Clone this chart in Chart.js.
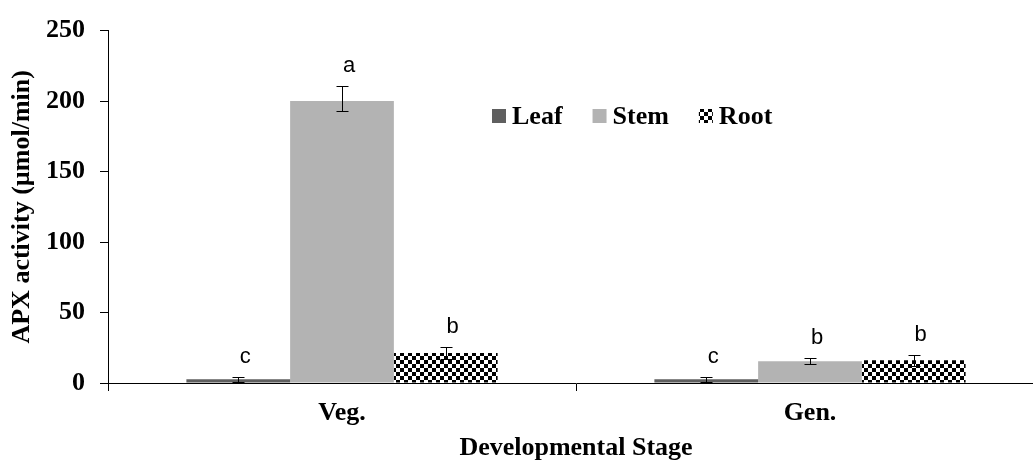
<!DOCTYPE html>
<html><head><meta charset="utf-8">
<script src="https://cdn.jsdelivr.net/npm/chart.js@4.4.0/dist/chart.umd.min.js"></script>
<style>html,body{margin:0;padding:0;overflow:hidden;background:#fff}</style>
</head><body>
<canvas id="c" width="1060" height="464"></canvas>
<script>
// ---- data ----
const categories = ['Veg.', 'Gen.'];
const seriesNames = ['Leaf', 'Stem', 'Root'];
const leafValues = [2.7, 2.6];
const stemValues = [200, 15.4];
const rootValues = [21.3, 16.1];
const leafErrPlus = [1.7, 1.8];
const leafErrMinus = [1.7, 1.8];
const stemErrPlus = [11, 2.6];
const stemErrMinus = [7, 2.1];
const rootErrPlus = [4.2, 4.0];
const rootErrMinus = [4.2, 4.0];
const leafLetters = ['c', 'c'];
const stemLetters = ['a', 'b'];
const rootLetters = ['b', 'b'];
const yTicks = [0, 50, 100, 150, 200, 250];
const yTitle = 'APX activity (µmol/min)';
const xTitle = 'Developmental Stage';

// ---- styles ----
const SERIF = '"Liberation Serif", "Times New Roman", serif';
const SANS = '"Liberation Sans", Arial, sans-serif';

function checker() {
  const p = document.createElement('canvas');
  p.width = 8; p.height = 8;
  const g = p.getContext('2d');
  g.fillStyle = '#fff'; g.fillRect(0, 0, 8, 8);
  g.fillStyle = '#000';
  g.fillRect(0, 0, 4, 4); g.fillRect(4, 4, 4, 4);
  return g.createPattern(p, 'repeat');
}
const ctx0 = document.getElementById('c').getContext('2d');
const rootPattern = checker();

const datasets = [
  { label: seriesNames[0], data: leafValues, backgroundColor: '#5f5f5f', errP: leafErrPlus, errM: leafErrMinus, letters: leafLetters },
  { label: seriesNames[1], data: stemValues, backgroundColor: '#b3b3b3', errP: stemErrPlus, errM: stemErrMinus, letters: stemLetters },
  { label: seriesNames[2], data: rootValues, backgroundColor: rootPattern, errP: rootErrPlus, errM: rootErrMinus, letters: rootLetters }
].map(d => Object.assign(d, { borderWidth: 0, categoryPercentage: 0.665, barPercentage: 1.0 }));

const extras = {
  id: 'extras',
  afterDatasetsDraw(chart) {
    const ctx = chart.ctx;
    const ys = chart.scales.y;
    ctx.save();
    chart.data.datasets.forEach((ds, i) => {
      const meta = chart.getDatasetMeta(i);
      meta.data.forEach((bar, j) => {
        const v = ds.data[j];
        const yTop = ys.getPixelForValue(v + ds.errP[j]);
        const yBot = ys.getPixelForValue(v - ds.errM[j]);
        const x = Math.round(bar.x) + 0.5;
        ctx.strokeStyle = '#000';
        ctx.lineWidth = 1;
        ctx.beginPath();
        ctx.moveTo(x, Math.round(yTop) + 0.5); ctx.lineTo(x, Math.round(yBot) + 0.5);
        ctx.moveTo(x - 6, Math.round(yTop) + 0.5); ctx.lineTo(x + 6, Math.round(yTop) + 0.5);
        ctx.moveTo(x - 6, Math.round(yBot) + 0.5); ctx.lineTo(x + 6, Math.round(yBot) + 0.5);
        ctx.stroke();
        // significance letter
        ctx.fillStyle = '#000';
        ctx.font = '22px ' + SANS;
        ctx.textAlign = 'center';
        ctx.textBaseline = 'alphabetic';
        ctx.fillText(ds.letters[j], bar.x + 7, yTop - 14);
      });
    });
    // legend
    ctx.font = 'bold 26px ' + SERIF;
    ctx.textAlign = 'left';
    ctx.textBaseline = 'alphabetic';
    let lx = 492;
    chart.data.datasets.forEach((ds) => {
      ctx.fillStyle = ds.backgroundColor;
      ctx.fillRect(lx, 109, 14, 14);
      ctx.fillStyle = '#000';
      ctx.fillText(ds.label, lx + 20, 124);
      lx += 20 + ctx.measureText(ds.label).width + 30;
    });
    ctx.restore();
  }
};

new Chart(ctx0, {
  type: 'bar',
  data: { labels: categories, datasets },
  options: {
    responsive: false,
    animation: false,
    devicePixelRatio: 1,
    layout: { padding: { top: 27, right: 16, left: 0, bottom: 0 } },
    plugins: { legend: { display: false }, tooltip: { enabled: false } },
    scales: {
      x: {
        grid: { display: true, offset: true, drawOnChartArea: false, color: '#000', tickLength: 8, lineWidth: 1 },
        border: { display: true, color: '#000', width: 1 },
        ticks: { color: '#000', font: { family: SERIF, size: 26, weight: 'bold' }, padding: 7 },
        title: { display: true, text: xTitle, color: '#000', font: { family: SERIF, size: 26, weight: 'bold' }, padding: { top: 0, bottom: 0 } },
        afterFit(s) { s.height = 81; }
      },
      y: {
        min: yTicks[0], max: yTicks[yTicks.length - 1],
        afterBuildTicks(s) { s.ticks = yTicks.map(v => ({ value: v })); },
        grid: { display: true, drawOnChartArea: false, color: '#000', tickLength: 8, lineWidth: 1 },
        border: { display: true, color: '#000', width: 1 },
        ticks: { color: '#000', font: { family: SERIF, size: 26, weight: 'bold' }, padding: 15 },
        title: { display: true, text: yTitle, color: '#000', font: { family: SERIF, size: 26, weight: 'bold' }, padding: { top: 7, bottom: 0 } },
        afterFit(s) { s.width = 108; }
      }
    }
  },
  plugins: [extras]
});
</script>
</body></html>
